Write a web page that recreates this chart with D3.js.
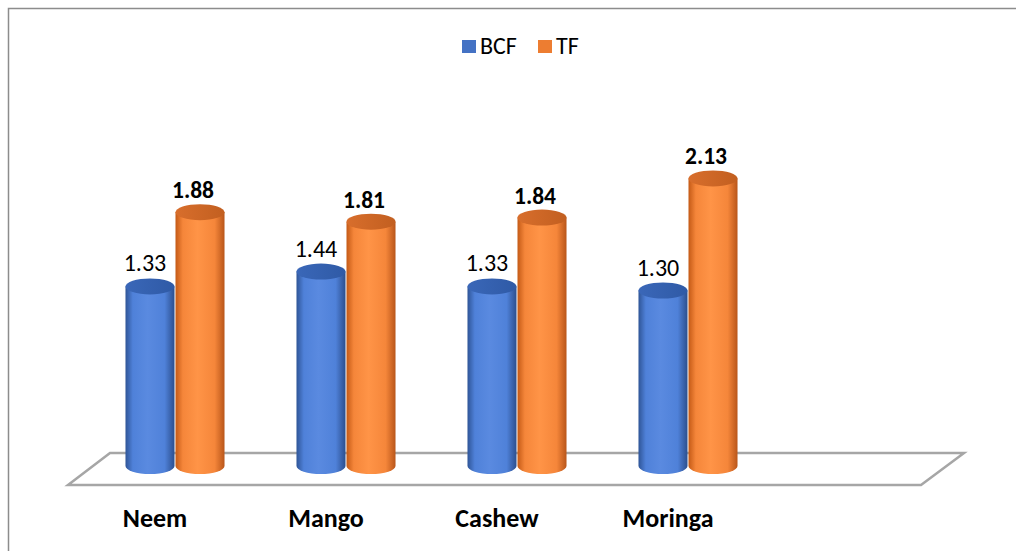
<!DOCTYPE html>
<html><head><meta charset="utf-8">
<script src="https://cdn.jsdelivr.net/npm/d3@7/dist/d3.min.js"></script>
<style>body{margin:0;background:#fff}svg{display:block}</style>
</head><body>
<script>
const categories = ["Neem", "Mango", "Cashew", "Moringa"];
const seriesNames = ["BCF", "TF"];
const bcfValues = [1.33, 1.44, 1.33, 1.30];
const tfValues = [1.88, 1.81, 1.84, 2.13];
const seriesColors = {BCF: ["#2f5597", "#4f81d9", "#5a8ae0", "#2c4f8e"], TF: ["#c45a16", "#f5863a", "#ff9447", "#b9561a"]};
const topColors = {BCF: ["#3a67b8", "#2f5aa6"], TF: ["#d86e2c", "#c25f20"]};

const W = 1016, H = 551;
const FONT = "Carlito, Calibri, 'Open Sans', 'Liberation Sans', sans-serif";
const svg = d3.select("body").append("svg").attr("width", W).attr("height", H);
const defs = svg.append("defs");

seriesNames.forEach(s => {
  const g = defs.append("linearGradient").attr("id", "g" + s).attr("x1", 0).attr("x2", 1).attr("y1", 0).attr("y2", 0);
  const c = seriesColors[s];
  [[0, c[0]], [0.15, c[1]], [0.45, c[2]], [0.8, c[1]], [1, c[3]]].forEach(([o, col]) => g.append("stop").attr("offset", o).attr("stop-color", col));
  const t = defs.append("linearGradient").attr("id", "t" + s).attr("x1", 0).attr("x2", 1).attr("y1", 0).attr("y2", 0);
  t.append("stop").attr("offset", 0).attr("stop-color", topColors[s][0]);
  t.append("stop").attr("offset", 1).attr("stop-color", topColors[s][1]);
});

// frame
svg.append("path").attr("d", `M8.5,${H} V8.5 H${W}`).attr("fill", "none").attr("stroke", "#8c8c8c").attr("stroke-width", 1.5);

const x = d3.scaleBand().domain(categories).range([89.5, 773.5]).paddingInner(0.415).paddingOuter(0.2075);
const xs = d3.scaleBand().domain(seriesNames).range([0, x.bandwidth()]);
const y = d3.scaleLinear().domain([0, 2.5]).range([466, 466 - 2.5 * 135]);

// floor
svg.append("path").attr("d", "M110,453 L964,453 L921,485 L68,485 Z")
  .attr("fill", "#fff").attr("stroke", "#a6a6a6").attr("stroke-width", 2.5).attr("stroke-linejoin", "miter");

const ry = 8;
const data = [];
categories.forEach((c, i) => {
  data.push({cat: c, s: "BCF", v: bcfValues[i]});
  data.push({cat: c, s: "TF", v: tfValues[i]});
});

const bars = svg.append("g").selectAll("g").data(data).join("g");
bars.each(function(d) {
  const g = d3.select(this);
  const x0 = x(d.cat) + xs(d.s) + 0.5, w = xs.bandwidth() - 1;
  const rx = w / 2, cx = x0 + rx;
  const yt = y(d.v), yb = y(0);
  g.append("path")
    .attr("d", `M${x0},${yt} L${x0},${yb} A${rx},${ry} 0 0 0 ${x0 + w},${yb} L${x0 + w},${yt} Z`)
    .attr("fill", `url(#g${d.s})`);
  g.append("ellipse").attr("cx", cx).attr("cy", yt).attr("rx", rx).attr("ry", ry)
    .attr("fill", `url(#t${d.s})`);
  const isB = d.s === "BCF";
  g.append("text").attr("x", cx - (isB ? 5 : 7)).attr("y", yt - (isB ? 15 : 14))
    .attr("text-anchor", "middle").attr("font-family", FONT)
    .attr("font-size", isB ? 24 : 23.5).attr("font-weight", isB ? "normal" : "bold")
    .attr("fill", "#000").text(d.v.toFixed(2));
});

// category labels
svg.append("g").selectAll("text").data(categories).join("text")
  .attr("x", d => x(d) + x.bandwidth() / 2 - 20).attr("y", 527)
  .attr("text-anchor", "middle").attr("font-family", FONT).attr("font-size", 26).attr("font-weight", "bold")
  .text(d => d);

// legend
const legX = [462, 538];
const leg = svg.append("g").selectAll("g").data(seriesNames).join("g")
  .attr("transform", (d, i) => `translate(${legX[i]},0)`);
leg.append("rect").attr("x", 0).attr("y", 40).attr("width", 14).attr("height", 13)
  .attr("fill", d => d === "BCF" ? "#4472c4" : "#ed7d31");
leg.append("text").attr("x", 18).attr("y", 54).attr("font-family", FONT).attr("font-size", 24).text(d => d);
</script>
</body></html>
